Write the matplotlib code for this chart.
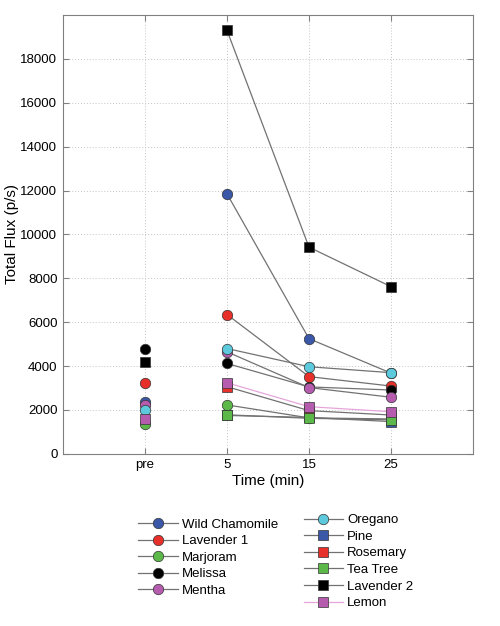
import numpy as np
import matplotlib
matplotlib.use("Agg")
import matplotlib.pyplot as plt
from matplotlib.lines import Line2D

plt.rcParams['font.family'] = ['Liberation Sans', 'DejaVu Sans']

# time points: pre, 5, 15, 25 min
TIME_LABELS = ["pre", "5", "15", "25"]

# circles
wild_chamomile = [2380, 11850, 5250, 3680]
lavender_1 = [3230, 6350, 3520, 3090]
marjoram = [1380, 2230, 1640, 1590]
melissa = [4800, 4120, 3050, 2910]
mentha = [2230, 4650, 3020, 2580]
oregano = [2010, 4800, 3970, 3700]
# squares
pine = [np.nan, 1750, 1660, 1470]
rosemary = [np.nan, 3060, 1970, 1770]
tea_tree = [np.nan, 1780, 1620, 1550]
lavender_2 = [4180, 19300, 9420, 7620]
lemon = [1590, 3240, 2150, 1920]

series = [
    ("Wild Chamomile", wild_chamomile, "o", "#3b57a8"),
    ("Lavender 1", lavender_1, "o", "#e8302a"),
    ("Marjoram", marjoram, "o", "#5cb849"),
    ("Melissa", melissa, "o", "#000000"),
    ("Mentha", mentha, "o", "#b65caf"),
    ("Oregano", oregano, "o", "#5ccadc"),
    ("Pine", pine, "s", "#3b57a8"),
    ("Rosemary", rosemary, "s", "#e8302a"),
    ("Tea Tree", tea_tree, "s", "#5cb849"),
    ("Lavender 2", lavender_2, "s", "#000000"),
    ("Lemon", lemon, "s", "#b65caf"),
]

LINE_GRAY = "#727272"
LEMON_LINE = "#e6a6dc"

fig = plt.figure(figsize=(5.0, 6.26), dpi=100)
ax = fig.add_axes([0.126, 0.275, 0.82, 0.701])

x = np.arange(1, 5)
handles = []
for name, vals, mk, col in series:
    lc = LEMON_LINE if name == "Lemon" else LINE_GRAY
    vals = np.array(vals, dtype=float)
    # pre marker stands on its own, the rest are connected
    ax.plot(x[:1], vals[:1], linestyle="none", marker=mk, markersize=7.5,
            markerfacecolor=col, markeredgecolor="#333333", markeredgewidth=0.5, zorder=3)
    ax.plot(x[1:], vals[1:], color=lc, linewidth=0.9, marker=mk, markersize=7.5,
            markerfacecolor=col, markeredgecolor="#333333", markeredgewidth=0.5, zorder=3)
    h = Line2D([], [], color=lc, linewidth=0.9, marker=mk, markersize=7.5,
               markerfacecolor=col, markeredgecolor="#333333", markeredgewidth=0.5)
    handles.append((h, name))

ax.set_xlim(0, 5)
ax.set_ylim(0, 20000)
ax.set_xticks(x)
ax.set_xticklabels(TIME_LABELS)
ax.set_yticks(np.arange(0, 18001, 2000))
ax.tick_params(direction="in", top=True, right=True, length=4, color="#808080",
               labelsize=9.5, pad=4)
for s in ax.spines.values():
    s.set_color("#808080")
ax.grid(True, linestyle=(0, (1, 2)), color="#c4c4c4", linewidth=0.7)
ax.set_axisbelow(True)
ax.set_xlabel("Time (min)", fontsize=11, labelpad=2)
ax.set_ylabel("Total Flux (p/s)", fontsize=11, labelpad=1)

leg1 = fig.legend([h for h, n in handles[:5]], [n for h, n in handles[:5]],
                  loc="upper left", bbox_to_anchor=(0.276, 0.172), frameon=False,
                  fontsize=9.5, handlelength=3.0, handletextpad=0.3, labelspacing=0.33,
                  borderaxespad=0, borderpad=0)
leg2 = fig.legend([h for h, n in handles[5:]], [n for h, n in handles[5:]],
                  loc="upper left", bbox_to_anchor=(0.607, 0.179), frameon=False,
                  fontsize=9.5, handlelength=3.0, handletextpad=0.3, labelspacing=0.33,
                  borderaxespad=0, borderpad=0)

fig.savefig("out.png", dpi=100)
